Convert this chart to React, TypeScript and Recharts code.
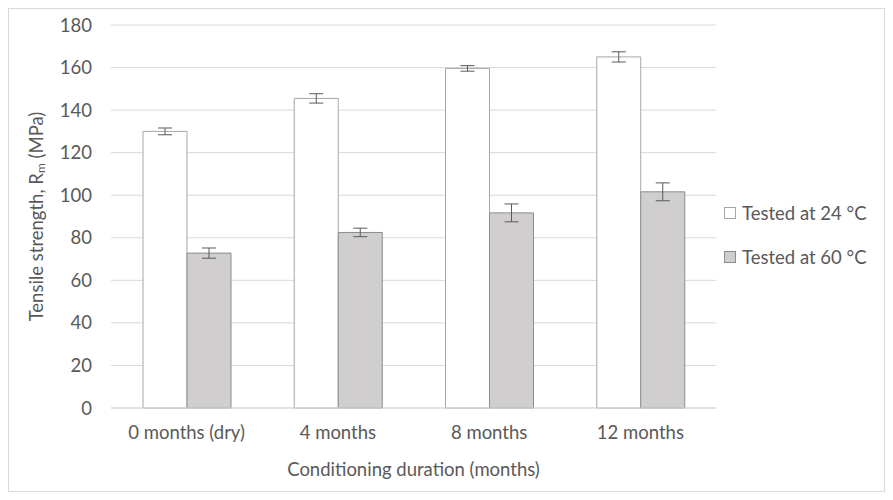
import { BarChart, Bar, XAxis, YAxis, CartesianGrid, ErrorBar } from "recharts";

const categories = ["0 months (dry)", "4 months", "8 months", "12 months"];
const tested24 = [130, 145.5, 159.6, 165];
const tested24Err = [1.6, 2.2, 1.3, 2.4];
const tested60 = [72.8, 82.5, 91.7, 101.6];
const tested60Err = [2.4, 2.0, 4.2, 4.2];
const yTicks = [0, 20, 40, 60, 80, 100, 120, 140, 160, 180];

const FONT = "Lato, 'Open Sans', sans-serif";
const TEXT = "#595959";
const FS = 18.5;

const data = categories.map((name, i) => ({
  name,
  t24: tested24[i],
  t24Err: tested24Err[i],
  t60: tested60[i],
  t60Err: tested60Err[i],
}));

const legendItems = [
  { label: "Tested at 24 °C", fill: "#ffffff", stroke: "#a6a6a6" },
  { label: "Tested at 60 °C", fill: "#d0cece", stroke: "#8c8c8c" },
];

const LegendBox = () => (
  <div
    style={{
      position: "absolute",
      left: 715,
      top: 182,
      fontFamily: FONT,
      fontSize: FS,
      color: TEXT,
      whiteSpace: "nowrap",
    }}
  >
    {legendItems.map((item) => (
      <div key={item.label} style={{ display: "flex", alignItems: "center", height: 44 }}>
        <span
          style={{
            display: "inline-block",
            width: 10,
            height: 10,
            background: item.fill,
            border: `1px solid ${item.stroke}`,
            marginRight: 6,
          }}
        />
        <span>{item.label}</span>
      </div>
    ))}
  </div>
);

const YTitle = (props: any) => {
  const { viewBox } = props;
  const cx = 27;
  const cy = viewBox.y + viewBox.height / 2;
  return (
    <text
      x={cx}
      y={cy}
      transform={`rotate(-90, ${cx}, ${cy})`}
      textAnchor="middle"
      dominantBaseline="central"
      fill={TEXT}
      fontFamily={FONT}
      fontSize={FS}
    >
      Tensile strength, R
      <tspan fontSize={12} dy={4}>m</tspan>
      <tspan dy={-4}> (MPa)</tspan>
    </text>
  );
};

const App = () => (
  <div
    style={{
      position: "relative",
      width: 875,
      height: 482,
      border: "1px solid #d9d9d9",
      background: "#fff",
    }}
  >
    <BarChart
      width={875}
      height={482}
      data={data}
      margin={{ top: 16, right: 168, bottom: 0, left: 0 }}
      barCategoryGap={32}
      barGap={0}
    >
      <CartesianGrid vertical={false} stroke="#d9d9d9" />
      <XAxis
        dataKey="name"
        height={83}
        stroke="#d9d9d9"
        tickLine={false}
        tickSize={0}
        tickMargin={18}
        tick={{ fill: TEXT, fontFamily: FONT, fontSize: FS }}
        label={{
          value: "Conditioning duration (months)",
          position: "insideBottom",
          offset: 15,
          fill: TEXT,
          fontFamily: FONT,
          fontSize: FS,
        }}
      />
      <YAxis
        width={102}
        domain={[0, 180]}
        ticks={yTicks}
        axisLine={false}
        tickLine={false}
        tickSize={0}
        tickMargin={19}
        tick={{ fill: TEXT, fontFamily: FONT, fontSize: FS }}
        label={<YTitle />}
      />
      <Bar dataKey="t24" name="Tested at 24 °C" fill="#ffffff" stroke="#a6a6a6" strokeWidth={1} isAnimationActive={false}>
        <ErrorBar dataKey="t24Err" width={7} stroke="#595959" strokeWidth={1} />
      </Bar>
      <Bar dataKey="t60" name="Tested at 60 °C" fill="#d0cece" stroke="#8c8c8c" strokeWidth={1} isAnimationActive={false}>
        <ErrorBar dataKey="t60Err" width={7} stroke="#595959" strokeWidth={1} />
      </Bar>
    </BarChart>
    <LegendBox />
  </div>
);

export default App;
